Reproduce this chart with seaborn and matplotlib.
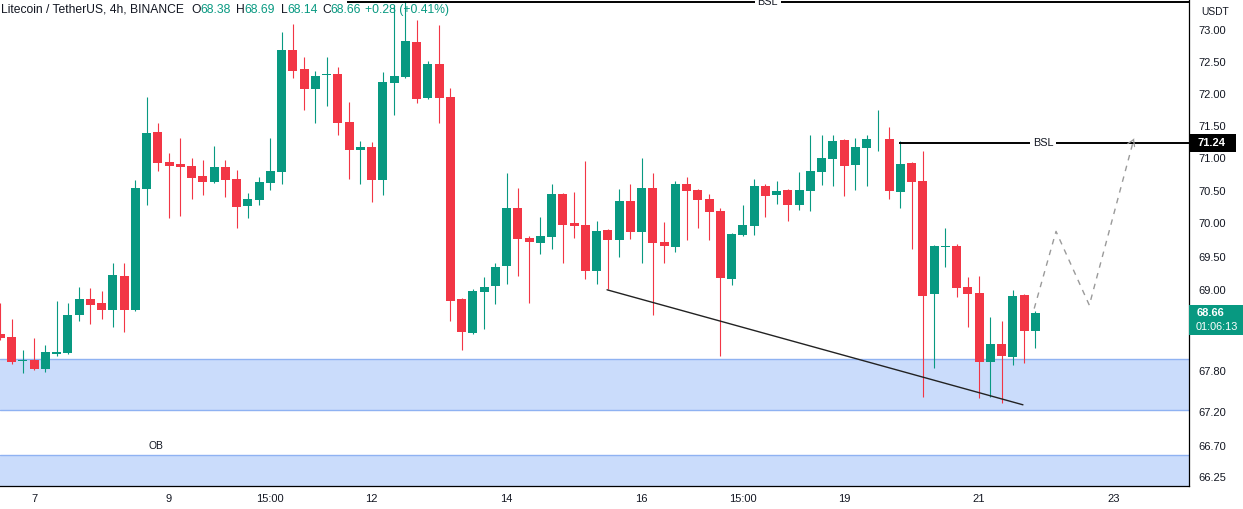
import numpy as np
import pandas as pd
import matplotlib
matplotlib.use("Agg")
import matplotlib.pyplot as plt
from matplotlib.ticker import FixedLocator, NullLocator, FixedFormatter
from matplotlib.patches import Rectangle
import seaborn as sns

# ---------------- data (LTC/USDT 4h candles) ----------------
opens = [68.34, 68.30, 67.94, 67.96, 67.82, 68.05, 68.06, 68.62, 68.86, 68.80,
         68.70, 69.21, 68.70, 70.53, 71.40, 70.94, 70.91, 70.88, 70.72, 70.63,
         70.86, 70.68, 70.27, 70.36, 70.62, 70.79, 72.68, 72.38, 72.07, 72.29,
         72.31, 71.56, 71.12, 71.17, 70.66, 72.16, 72.26, 72.81, 71.93, 72.46,
         71.95, 68.86, 68.36, 68.97, 69.06, 69.36, 70.24, 69.78, 69.70, 69.79,
         70.45, 70.01, 69.98, 69.28, 69.90, 69.75, 70.34, 69.87, 70.54, 69.72,
         69.64, 70.60, 70.51, 70.37, 70.19, 69.16, 69.82, 69.96, 70.57, 70.43,
         70.51, 70.28, 70.49, 70.79, 70.99, 71.28, 70.89, 71.16, 71.29, 71.29,
         70.48, 70.92, 70.65, 68.94, 69.65, 69.66, 69.04, 68.95, 67.93, 68.19,
         68.00, 68.92, 68.38]
highs = [68.80, 68.56, 68.11, 68.28, 68.18, 68.83, 68.80, 69.04, 69.03, 68.98,
         69.40, 69.40, 70.66, 71.95, 71.54, 71.08, 71.31, 71.00, 70.97, 71.19,
         70.97, 70.82, 70.46, 70.71, 71.31, 72.97, 73.10, 72.57, 72.35, 72.57,
         72.42, 71.87, 71.26, 71.25, 72.34, 73.40, 73.46, 73.16, 72.51, 73.08,
         72.09, 68.87, 69.01, 69.19, 69.40, 70.77, 70.54, 69.81, 70.10, 70.60,
         70.46, 70.48, 70.95, 70.04, 69.92, 70.53, 70.60, 71.00, 70.77, 70.02,
         70.65, 70.71, 70.53, 70.45, 70.24, 69.85, 70.28, 70.68, 70.60, 70.65,
         70.52, 70.79, 71.36, 71.36, 71.36, 71.29, 71.31, 71.36, 71.74, 71.48,
         71.26, 70.94, 71.11, 69.67, 69.93, 69.69, 69.19, 69.21, 68.59, 68.53,
         69.00, 68.94, 68.69]
lows = [68.25, 67.90, 67.77, 67.81, 67.78, 68.02, 68.05, 68.53, 68.49, 68.56,
        68.45, 68.37, 68.68, 70.28, 70.80, 70.08, 70.11, 70.37, 70.43, 70.62,
        70.40, 69.93, 70.08, 70.28, 70.51, 70.60, 72.24, 71.74, 71.54, 71.81,
        71.36, 70.68, 70.60, 70.33, 70.43, 71.67, 72.25, 71.85, 71.92, 71.54,
        68.53, 68.10, 68.34, 68.42, 68.79, 69.09, 69.21, 68.80, 69.54, 69.61,
        69.40, 69.78, 69.16, 69.09, 69.01, 69.49, 69.76, 69.40, 68.62, 69.40,
        69.57, 69.75, 69.93, 69.75, 68.02, 69.07, 69.81, 69.82, 70.10, 70.30,
        70.04, 70.21, 70.19, 70.59, 70.57, 70.42, 70.51, 70.57, 71.11, 70.37,
        70.24, 69.61, 67.41, 67.84, 69.34, 68.89, 68.45, 67.40, 67.41, 67.32,
        67.88, 67.91, 68.14]
closes = [68.28, 67.93, 67.96, 67.82, 68.08, 68.08, 68.62, 68.86, 68.77, 68.70,
          69.22, 68.70, 70.54, 71.39, 70.92, 70.88, 70.86, 70.69, 70.63, 70.86,
          70.66, 70.25, 70.37, 70.63, 70.80, 72.68, 72.35, 72.07, 72.28, 72.31,
          71.54, 71.12, 71.17, 70.66, 72.18, 72.27, 72.83, 71.92, 72.46, 71.93,
          68.83, 68.37, 68.98, 69.04, 69.34, 70.24, 69.76, 69.72, 69.81, 70.45,
          69.98, 69.96, 69.28, 69.89, 69.75, 70.34, 69.87, 70.54, 69.70, 69.66,
          70.60, 70.49, 70.36, 70.17, 69.18, 69.84, 69.98, 70.57, 70.42, 70.49,
          70.28, 70.51, 70.80, 71.00, 71.26, 70.88, 71.17, 71.29, 71.30, 70.49,
          70.91, 70.63, 68.91, 69.66, 69.66, 69.03, 68.94, 67.93, 68.19, 68.02,
          68.91, 68.38, 68.66]

date_tick_pos = [3, 15, 24, 33, 45, 57, 66, 75, 87, 99]
date_tick_labels = ["7", "9", "15:00", "12", "14", "16", "15:00", "19", "21", "23"]
price_ticks = [73.00, 72.50, 72.00, 71.50, 71.00, 70.50, 70.00, 69.50, 69.00,
               67.80, 67.20, 66.70, 66.25]

ob_zones_low = [67.22, 65.90]
ob_zones_high = [67.97, 66.57]
ob_label = "OB"
ob_label_pos = (13.8, 66.63)

bsl_levels = [73.45, 71.24]
bsl_start = [30.8, 79.86]
bsl_label_x = [68.2, 92.7]

trend_x = [53.93, 90.9]
trend_y = [69.00, 67.30]

path_x = [91.9, 93.84, 96.8, 100.77]
path_y = [68.72, 69.88, 68.77, 71.30]

last_price = 68.66
countdown = "01:06:13"
title_parts = [("Litecoin / TetherUS, 4h, BINANCE", 1, "dark"),
               ("O", 191, "dark"), ("68.38", 200, "green"),
               ("H", 236, "dark"), ("68.69", 244, "green"),
               ("L", 281, "dark"), ("68.14", 287, "green"),
               ("C", 322, "dark"), ("68.66", 330, "green"),
               ("+0.28 (+0.41%)", 365, "green")]

# ---------------- style ----------------
GREEN = "#089981"
RED = "#F23645"
DARK = "#131722"

sns.set_theme(style="white")
plt.rcParams["font.family"] = ["Liberation Sans", "DejaVu Sans"]

W, H = 1243, 509
fig = plt.figure(figsize=(W / 100, H / 100), dpi=100)
ax_left, ax_right, ax_bottom, ax_top = 0, 1189, 486, 0
ax = fig.add_axes([ax_left / W, (H - ax_bottom) / H, (ax_right - ax_left) / W, (ax_bottom - ax_top) / H])

df = pd.DataFrame({"o": opens, "h": highs, "l": lows, "c": closes})
df["i"] = np.arange(len(df))
df["up"] = df["c"] >= df["o"]
df["color"] = np.where(df["up"], GREEN, RED)
df["bot"] = df[["o", "c"]].min(axis=1)
df["top"] = df[["o", "c"]].max(axis=1)

ax.set_yscale("log")
ax.set_ylim(66.125, 73.477)
ax.set_xlim(-0.027, 105.66)

# order-block zones
for lo, hi in zip(ob_zones_low, ob_zones_high):
    ax.axhspan(lo, hi, facecolor="#cadcfb", edgecolor="none", zorder=0.5)
    ax.axhline(hi, color="#8fb2f2", lw=1.0, zorder=0.6)
    ax.axhline(lo, color="#8fb2f2", lw=1.0, zorder=0.6)
ax.text(ob_label_pos[0], ob_label_pos[1], ob_label, fontsize=7.4, color=DARK,
        ha="center", va="bottom", zorder=4)

# candles: wicks and bodies
ax.vlines(df["i"], df["l"], df["h"], colors=df["color"], lw=0.8, zorder=2)
ax.bar(df["i"], (df["top"] - df["bot"]).clip(lower=0.012), bottom=df["bot"],
       width=0.8, color=df["color"], linewidth=0, zorder=2.5)

# trendline
sns.lineplot(x=trend_x, y=trend_y, ax=ax, color="#222222", lw=1.0,
             estimator=None, sort=False, zorder=3)

# BSL lines
for lvl, xs, lx in zip(bsl_levels, bsl_start, bsl_label_x):
    ax.plot([xs, 106], [lvl, lvl], color="black", lw=1.4, zorder=3,
            solid_capstyle="butt")
    ax.text(lx, lvl, "BSL", fontsize=7.8, color=DARK, ha="center", va="center",
            zorder=4, clip_on=True,
            bbox=dict(boxstyle="square,pad=0.25", fc="white", ec="none"))

# projected path (dashed)
pdf = pd.DataFrame({"x": path_x, "y": path_y})
sns.lineplot(data=pdf, x="x", y="y", ax=ax, color="#9a9a9a", lw=1.0,
             estimator=None, sort=False, zorder=3, linestyle=(0, (4, 4)))
ax.annotate("", xy=(path_x[-1], path_y[-1]),
            xytext=(path_x[-1] - 0.15, path_y[-1] - 0.06),
            arrowprops=dict(arrowstyle="->,head_length=0.35,head_width=0.22",
                            color="#9a9a9a", lw=0.9), zorder=3)

# axes cosmetics
for s in ["left", "top"]:
    ax.spines[s].set_visible(False)
for s in ["right", "bottom"]:
    ax.spines[s].set_visible(True)
    ax.spines[s].set_color("black")
    ax.spines[s].set_linewidth(0.9)
ax.grid(False)
ax.set_xlabel("")
ax.set_ylabel("")

ax.yaxis.tick_right()
ax.yaxis.set_major_locator(FixedLocator(price_ticks))
ax.yaxis.set_major_formatter(FixedFormatter([f"{v:.2f}" for v in price_ticks]))
ax.yaxis.set_minor_locator(NullLocator())
ax.tick_params(axis="y", length=0, pad=6.5, labelsize=8.0, labelcolor=DARK)

ax.set_xticks(date_tick_pos)
ax.set_xticklabels(date_tick_labels)
ax.xaxis.set_minor_locator(NullLocator())
ax.tick_params(axis="x", length=0, pad=5.5, labelsize=8.0, labelcolor=DARK)

# right-scale price labels
fig.canvas.draw()
def price_to_fig_y(p):
    return fig.transFigure.inverted().transform(ax.transData.transform((0, p)))[1]

y_bsl = price_to_fig_y(bsl_levels[1])
fig.patches.append(Rectangle((1189 / W, y_bsl - 9 / H), 47 / W, 18 / H,
                             transform=fig.transFigure, facecolor="black",
                             edgecolor="none", zorder=5))
fig.text(1212 / W, y_bsl, f"{bsl_levels[1]:.2f}", color="white", fontsize=8.0,
         fontweight="bold", ha="center", va="center", zorder=6)

y_last = price_to_fig_y(last_price)
fig.patches.append(Rectangle((1189 / W, y_last - 22 / H), 54 / W, 30 / H,
                             transform=fig.transFigure, facecolor=GREEN,
                             edgecolor="none", zorder=5))
fig.text(1197 / W, y_last, f"{last_price:.2f}", color="white", fontsize=8.0,
         fontweight="bold", ha="left", va="center", zorder=6)
fig.text(1196 / W, y_last - 14.5 / H, countdown, color="white", fontsize=7.8,
         ha="left", va="center", zorder=6)

fig.text(1215 / W, 1 - 12 / H, "USDT", color=DARK, fontsize=7.4,
         ha="center", va="center")

# header
for txt, xpx, col in title_parts:
    fig.text(xpx / W, 1 - 10 / H, txt, color=DARK if col == "dark" else GREEN,
             fontsize=8.7, ha="left", va="center", zorder=6)

fig.savefig("out.png", dpi=100, facecolor="white")
